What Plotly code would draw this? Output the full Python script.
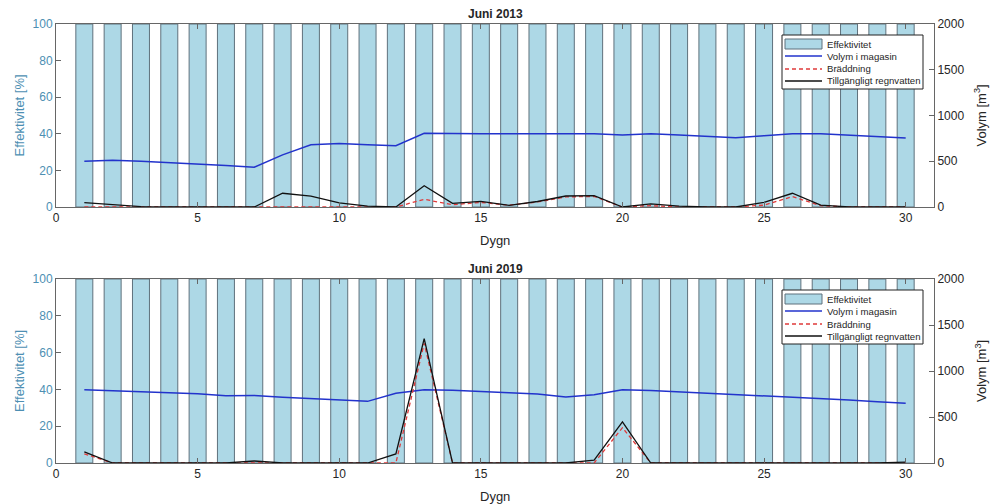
import plotly.graph_objects as go

days = list(range(1, 31))
eff_2013 = [100] * 30
eff_2019 = [100] * 30

vol_2013 = [500, 510, 500, 486, 470, 454, 435, 570, 680, 695, 680, 670, 805, 800, 800, 800, 800, 800, 800, 787,
            800, 787, 772, 758, 780, 800, 800, 787, 772, 755]
brad_2013 = [0, 0, 0, 0, 0, 0, 0, 0, 0, 0, 0, 0, 84, 25, 50, 20, 55, 110, 115, 0,
             15, 0, 0, 0, 20, 113, 15, 0, 0, 0]
tillg_2013 = [47, 25, 5, 0, 0, 0, 0, 150, 120, 45, 10, 0, 233, 40, 62, 18, 60, 120, 124, 0,
              35, 10, 0, 0, 51, 150, 20, 0, 0, 0]

vol_2019 = [795, 785, 776, 764, 752, 730, 735, 716, 700, 684, 670, 758, 795, 790, 780, 764, 750, 718, 742, 795,
            788, 774, 760, 746, 730, 714, 700, 684, 666, 650]
brad_2019 = [100, 0, 0, 0, 0, 0, 0, 0, 0, 0, 0, 0, 1300, 0, 0, 0, 0, 0, 0, 384,
             0, 0, 0, 0, 0, 0, 0, 0, 0, 0]
tillg_2019 = [122, 0, 0, 0, 0, 0, 22, 0, 0, 0, 0, 98, 1351, 0, 0, 0, 0, 0, 32, 446,
              0, 0, 0, 0, 0, 0, 0, 0, 0, 10]

x_ticks = [0, 5, 10, 15, 20, 25, 30]
left_ticks = [0, 20, 40, 60, 80, 100]
right_ticks = [0, 500, 1000, 1500, 2000]
legend_names = ["Effektivitet", "Volym i magasin", "Bräddning", "Tillgängligt regnvatten"]

W, H = 992, 504
LEFTC = "#4d8fb3"
BARC = "#add8e6"
BAREDGE = "#5f717c"
BLUE = "#2233cc"
RED = "#e03a3a"
BLACK = "#111111"
TXT = "#262626"
FONT = "Liberation Sans, Arial, sans-serif"
DASH = "4px,3px"


def px(xp):
    return xp / W


def py(yp):
    return 1 - yp / H


fig = go.Figure()


def add_panel(eff, vol, brad, tillg, xa, ya, ya2):
    fig.add_trace(go.Bar(x=days, y=eff, width=0.6, marker=dict(color=BARC, line=dict(color=BAREDGE, width=1)),
                         name=legend_names[0], xaxis=xa, yaxis=ya, showlegend=False))
    fig.add_trace(go.Scatter(x=days, y=vol, mode="lines", line=dict(color=BLUE, width=1.5),
                             name=legend_names[1], xaxis=xa, yaxis=ya2, showlegend=False))
    fig.add_trace(go.Scatter(x=days, y=brad, mode="lines", line=dict(color=RED, width=1.3, dash=DASH),
                             name=legend_names[2], xaxis=xa, yaxis=ya2, showlegend=False))
    fig.add_trace(go.Scatter(x=days, y=tillg, mode="lines", line=dict(color=BLACK, width=1.3),
                             name=legend_names[3], xaxis=xa, yaxis=ya2, showlegend=False))


add_panel(eff_2013, vol_2013, brad_2013, tillg_2013, "x", "y", "y2")
add_panel(eff_2019, vol_2019, brad_2019, tillg_2019, "x2", "y3", "y4")

axis_line = "#666666"
tickf = dict(size=12, color=TXT, family=FONT)
xcommon = dict(range=[0, 31], tickvals=x_ticks, ticks="inside", ticklen=5, tickcolor=axis_line, showline=True,
               linecolor=axis_line, mirror="ticks", showgrid=False, zeroline=False, tickfont=tickf,
               automargin=False)
lcommon = dict(range=[0, 100], tickvals=left_ticks, ticks="inside", ticklen=5, tickcolor=axis_line, showline=True,
               linecolor=axis_line, showgrid=False, zeroline=False,
               tickfont=dict(size=12, color=LEFTC, family=FONT), automargin=False)
rcommon = dict(range=[0, 2000], tickvals=right_ticks, ticks="inside", ticklen=5, tickcolor=axis_line, showline=True,
               linecolor=axis_line, showgrid=False, zeroline=False, side="right", tickfont=tickf, automargin=False)

XL, XR = 56, 934
panels = [(24, 207), (279, 463)]

fig.update_layout(
    width=W, height=H,
    margin=dict(l=0, r=0, t=0, b=0),
    paper_bgcolor="white", plot_bgcolor="white",
    font=dict(family=FONT),
    showlegend=False,
    xaxis=dict(domain=[px(XL), px(XR)], anchor="y", **xcommon),
    yaxis=dict(domain=[py(panels[0][1]), py(panels[0][0])], anchor="x", **lcommon),
    yaxis2=dict(overlaying="y", anchor="x", **rcommon),
    xaxis2=dict(domain=[px(XL), px(XR)], anchor="y3", **xcommon),
    yaxis3=dict(domain=[py(panels[1][1]), py(panels[1][0])], anchor="x2", **lcommon),
    yaxis4=dict(overlaying="y3", anchor="x2", **rcommon),
)

annotations = []
shapes = []
titles = ["Juni 2013", "Juni 2019"]
for i, (top, bot) in enumerate(panels):
    mid = (top + bot) / 2
    annotations.append(dict(text="<b>" + titles[i] + "</b>", x=px((XL + XR) / 2), y=py(top - 10), xref="paper",
                            yref="paper", xanchor="center", yanchor="middle", showarrow=False,
                            font=dict(size=12, color=TXT, family=FONT)))
    annotations.append(dict(text="Dygn", x=px((XL + XR) / 2), y=py(bot + 33), xref="paper", yref="paper",
                            xanchor="center", yanchor="middle", showarrow=False,
                            font=dict(size=13, color=TXT, family=FONT)))
    annotations.append(dict(text="Effektivitet [%]", x=px(19), y=py(mid), xref="paper", yref="paper",
                            xanchor="center", yanchor="middle", showarrow=False, textangle=-90,
                            font=dict(size=13, color=LEFTC, family=FONT)))
    annotations.append(dict(text="Volym [m<sup>3</sup>]", x=px(981), y=py(mid), xref="paper", yref="paper",
                            xanchor="center", yanchor="middle", showarrow=False, textangle=-90,
                            font=dict(size=13, color=TXT, family=FONT)))
    # manual legend box
    by0 = top + 11
    shapes.append(dict(type="rect", xref="paper", yref="paper", x0=px(782), x1=px(923), y0=py(by0),
                       y1=py(by0 + 54), line=dict(color="#222222", width=1), fillcolor="white", layer="above"))
    rows = [by0 + 9, by0 + 21, by0 + 34, by0 + 46]
    shapes.append(dict(type="rect", xref="paper", yref="paper", x0=px(785), x1=px(822), y0=py(rows[0] + 5),
                       y1=py(rows[0] - 5), line=dict(color=BAREDGE, width=1), fillcolor=BARC, layer="above"))
    shapes.append(dict(type="line", xref="paper", yref="paper", x0=px(785), x1=px(822), y0=py(rows[1]),
                       y1=py(rows[1]), line=dict(color=BLUE, width=1.5), layer="above"))
    shapes.append(dict(type="line", xref="paper", yref="paper", x0=px(785), x1=px(822), y0=py(rows[2]),
                       y1=py(rows[2]), line=dict(color=RED, width=1.3, dash=DASH), layer="above"))
    shapes.append(dict(type="line", xref="paper", yref="paper", x0=px(785), x1=px(822), y0=py(rows[3]),
                       y1=py(rows[3]), line=dict(color=BLACK, width=1.3), layer="above"))
    for name, ry in zip(legend_names, rows):
        annotations.append(dict(text=name, x=px(825), y=py(ry), xref="paper", yref="paper", xanchor="left",
                                yanchor="middle", showarrow=False, font=dict(size=9.6, color=TXT, family=FONT)))

fig.update_layout(annotations=annotations, shapes=shapes)

fig.write_html("out.html", config={"displayModeBar": False},
               post_script="document.body.style.margin='0';document.body.style.overflow='hidden';")
